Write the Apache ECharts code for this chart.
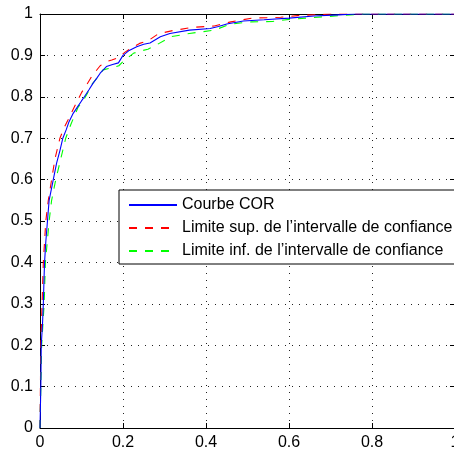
<!DOCTYPE html>
<html>
<head>
<meta charset="utf-8">
<script src="https://cdn.jsdelivr.net/npm/echarts@6/dist/echarts.min.js"></script>
<style>html,body{margin:0;padding:0;background:#fff;}#c{width:454px;height:453px;}</style>
</head>
<body>
<div id="c"></div>
<script>
// Courbe COR (blue)
const corX = [0, 0.001, 0.002, 0.003, 0.006, 0.008, 0.010, 0.011, 0.014, 0.018, 0.022, 0.032, 0.040, 0.048, 0.055, 0.063, 0.070, 0.080, 0.090, 0.100, 0.107, 0.118, 0.128, 0.137, 0.145, 0.160, 0.175, 0.189, 0.200, 0.215, 0.233, 0.250, 0.265, 0.290, 0.313, 0.360, 0.410, 0.430, 0.450, 0.490, 0.540, 0.600, 0.660, 0.720, 0.760, 1];
const corY = [0, 0.05, 0.10, 0.20, 0.25, 0.30, 0.37, 0.40, 0.45, 0.50, 0.55, 0.60, 0.64, 0.67, 0.70, 0.72, 0.74, 0.76, 0.775, 0.79, 0.80, 0.817, 0.833, 0.845, 0.857, 0.873, 0.878, 0.882, 0.900, 0.912, 0.921, 0.927, 0.930, 0.945, 0.953, 0.961, 0.965, 0.970, 0.976, 0.983, 0.986, 0.990, 0.995, 0.998, 1, 1];
// Limite sup. (red)
const supX = [0, 0.001, 0.002, 0.005, 0.008, 0.014, 0.020, 0.028, 0.036, 0.048, 0.058, 0.068, 0.080, 0.090, 0.100, 0.110, 0.122, 0.133, 0.145, 0.160, 0.173, 0.190, 0.205, 0.220, 0.240, 0.260, 0.285, 0.320, 0.370, 0.420, 0.460, 0.510, 0.580, 0.620, 0.700, 1];
const supY = [0, 0.10, 0.20, 0.30, 0.40, 0.50, 0.55, 0.60, 0.65, 0.70, 0.725, 0.745, 0.77, 0.79, 0.81, 0.825, 0.845, 0.86, 0.875, 0.885, 0.889, 0.895, 0.908, 0.918, 0.929, 0.935, 0.952, 0.960, 0.968, 0.971, 0.981, 0.990, 0.992, 0.996, 1, 1];
// Limite inf. (green)
const infX = [0, 0.002, 0.004, 0.010, 0.013, 0.022, 0.028, 0.038, 0.050, 0.062, 0.075, 0.092, 0.104, 0.115, 0.125, 0.133, 0.152, 0.173, 0.190, 0.200, 0.210, 0.225, 0.240, 0.260, 0.280, 0.315, 0.360, 0.420, 0.460, 0.510, 0.560, 0.600, 0.680, 0.780, 1];
const infY = [0, 0.10, 0.20, 0.30, 0.40, 0.50, 0.55, 0.60, 0.65, 0.70, 0.735, 0.775, 0.79, 0.81, 0.83, 0.84, 0.865, 0.870, 0.875, 0.885, 0.893, 0.905, 0.910, 0.915, 0.925, 0.945, 0.953, 0.961, 0.976, 0.981, 0.982, 0.987, 0.993, 1, 1];
const seriesNames = ['Courbe COR', 'Limite sup. de l\u2019intervalle de confiance', 'Limite inf. de l\u2019intervalle de confiance'];

const zip = (xs, ys) => xs.map((x, i) => [x, ys[i]]);
const font = 'Liberation Sans, Arial, sans-serif';
const chart = echarts.init(document.getElementById('c'), null, {renderer: 'canvas'});
const axisCommon = {
  type: 'value', min: 0, max: 1,
  axisLine: {show: true, onZero: false, lineStyle: {color: '#000', width: 1}},
  axisTick: {show: true, inside: true, length: 5, lineStyle: {color: '#000'}},
};
chart.setOption({
  animation: false,
  backgroundColor: '#fff',
  grid: {left: 40, top: 14, width: 415, height: 414, containLabel: false, outerBoundsMode: 'none'},
  legend: {
    orient: 'vertical', left: 119, top: 190,
    padding: [7, 16, 5, 9], itemGap: 7, itemWidth: 48, itemHeight: 14,
    backgroundColor: '#fff', borderColor: '#000', borderWidth: 1, borderRadius: 0,
    itemStyle: {color: 'rgba(0,0,0,0)', borderWidth: 0, opacity: 0},
    textStyle: {fontFamily: font, fontSize: 16, color: '#000', lineHeight: 16},
    data: seriesNames
  },
  xAxis: [
    Object.assign({}, axisCommon, {position: 'bottom', interval: 0.2,
      axisLabel: {color: '#000', fontFamily: font, fontSize: 16, margin: 7, formatter: v => String(+v.toFixed(1))},
      splitLine: {show: true, lineStyle: {color: '#222', type: [1, 6], width: 1}}}),
    Object.assign({}, axisCommon, {position: 'top', interval: 0.2, axisLabel: {show: false}, splitLine: {show: false}})
  ],
  yAxis: [
    Object.assign({}, axisCommon, {position: 'left', interval: 0.1,
      axisLabel: {color: '#000', fontFamily: font, fontSize: 16, margin: 7, formatter: v => String(+v.toFixed(1))},
      splitLine: {show: true, lineStyle: {color: '#222', type: [1, 6], width: 1}}}),
    Object.assign({}, axisCommon, {position: 'right', interval: 0.1, axisLabel: {show: false}, splitLine: {show: false}})
  ],
  series: [
    {name: seriesNames[0], type: 'line', data: zip(corX, corY), showSymbol: false, symbol: 'none', z: 4,
      lineStyle: {color: '#0000ff', width: 1.1}, itemStyle: {color: '#0000ff'}},
    {name: seriesNames[1], type: 'line', data: zip(supX, supY), showSymbol: false, symbol: 'none', z: 3,
      lineStyle: {color: '#ff0000', width: 1.1, type: [8, 8]}, itemStyle: {color: '#ff0000'}},
    {name: seriesNames[2], type: 'line', data: zip(infX, infY), showSymbol: false, symbol: 'none', z: 3,
      lineStyle: {color: '#00ff00', width: 1.1, type: [8, 8]}, itemStyle: {color: '#00ff00'}}
  ]
});
</script>
</body>
</html>
